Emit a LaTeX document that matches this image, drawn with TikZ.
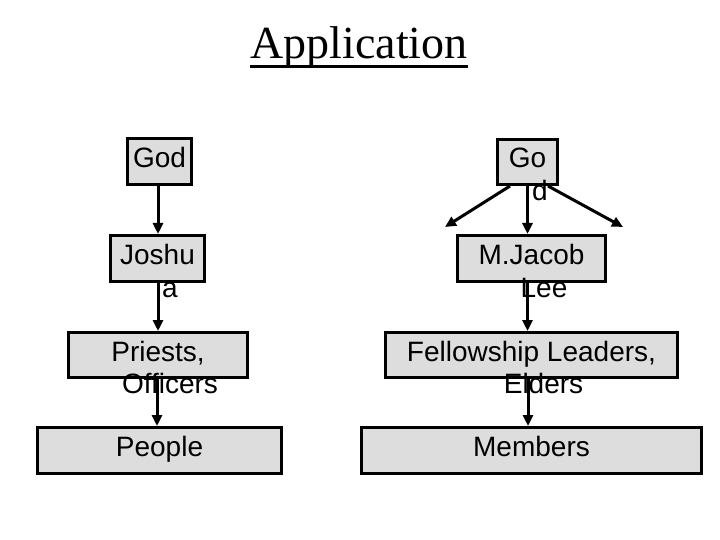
\documentclass[tikz,border=0pt]{standalone}
\usepackage{fontspec}
\setmainfont{Liberation Sans}
\newfontfamily\titlefont{Liberation Serif}
\usetikzlibrary{arrows.meta, positioning}
\definecolor{boxgray}{RGB}{221,221,221}

\begin{document}
\begin{tikzpicture}[x=1pt, y=-1pt,
  box/.style={draw, line width=3pt, fill=boxgray, inner sep=0pt,
    text height=20pt, text depth=8pt, font=\fontsize{28}{34}\selectfont},
  wrap/.style={anchor=base, inner sep=0pt, font=\fontsize{28}{34}\selectfont},
  link/.style={line width=3pt, -{Triangle[length=11pt, width=10pt]}}]
\useasboundingbox (0,0) rectangle (720,540);

\node[anchor=base, inner sep=0pt, font=\titlefont\fontsize{46}{52}\selectfont] (title) at (359,59) {Application};
\draw[line width=2.5pt] ([yshift=-7.5pt]title.base west) -- ([yshift=-7.5pt]title.base east);

% left column
\node[box, minimum width=64pt, minimum height=46pt] (god) at (159.5,162) {God};
\node[box, minimum width=94pt, minimum height=46pt] (jos) at (157.5,258.5) {Joshu};
\node[box, minimum width=179pt, minimum height=45pt] (pri) at (158,355) {Priests,};
\node[box, minimum width=244pt, minimum height=46pt] (ppl) at (159.5,450.5) {People};
\node[wrap] (jos2) at (170,297) {a};
\node[wrap] (pri2) at (170,393) {Officers};

% right column
\node[box, minimum width=60pt, minimum height=45pt] (go) at (527.5,162) {Go};
\node[box, minimum width=148pt, minimum height=46pt] (mjl) at (531.5,258.5) {M.Jacob};
\node[box, minimum width=292pt, minimum height=45pt] (fel) at (531.5,355) {Fellowship Leaders,};
\node[box, minimum width=340pt, minimum height=46pt] (mem) at (531.5,450.5) {Members};
\node[wrap] (go2) at (540,201) {d};
\node[wrap] (mjl2) at (544,297) {Lee};
\node[wrap] (fel2) at (543.5,393) {Elders};

\coordinate (goL) at (445,227);
\coordinate (goR) at (623,227);

\draw[link] ([xshift=-1.5pt]god.south) -- ([xshift=0.5pt]jos.north);
\draw[link] ([xshift=0.5pt]jos.south) -- ([xshift=0pt]pri.north);
\draw[link] ([xshift=-1pt]pri.south) -- ([xshift=-2.5pt]ppl.north);
\draw[link] ([xshift=-17.5pt]go.south) -- (goL);
\draw[link] (go.south) -- ([xshift=-4pt]mjl.north);
\draw[link] ([xshift=20.5pt]go.south) -- (goR);
\draw[link] ([xshift=-4pt]mjl.south) -- ([xshift=-4pt]fel.north);
\draw[link] ([xshift=-3.5pt]fel.south) -- ([xshift=-3.5pt]mem.north);
\end{tikzpicture}
\end{document}
